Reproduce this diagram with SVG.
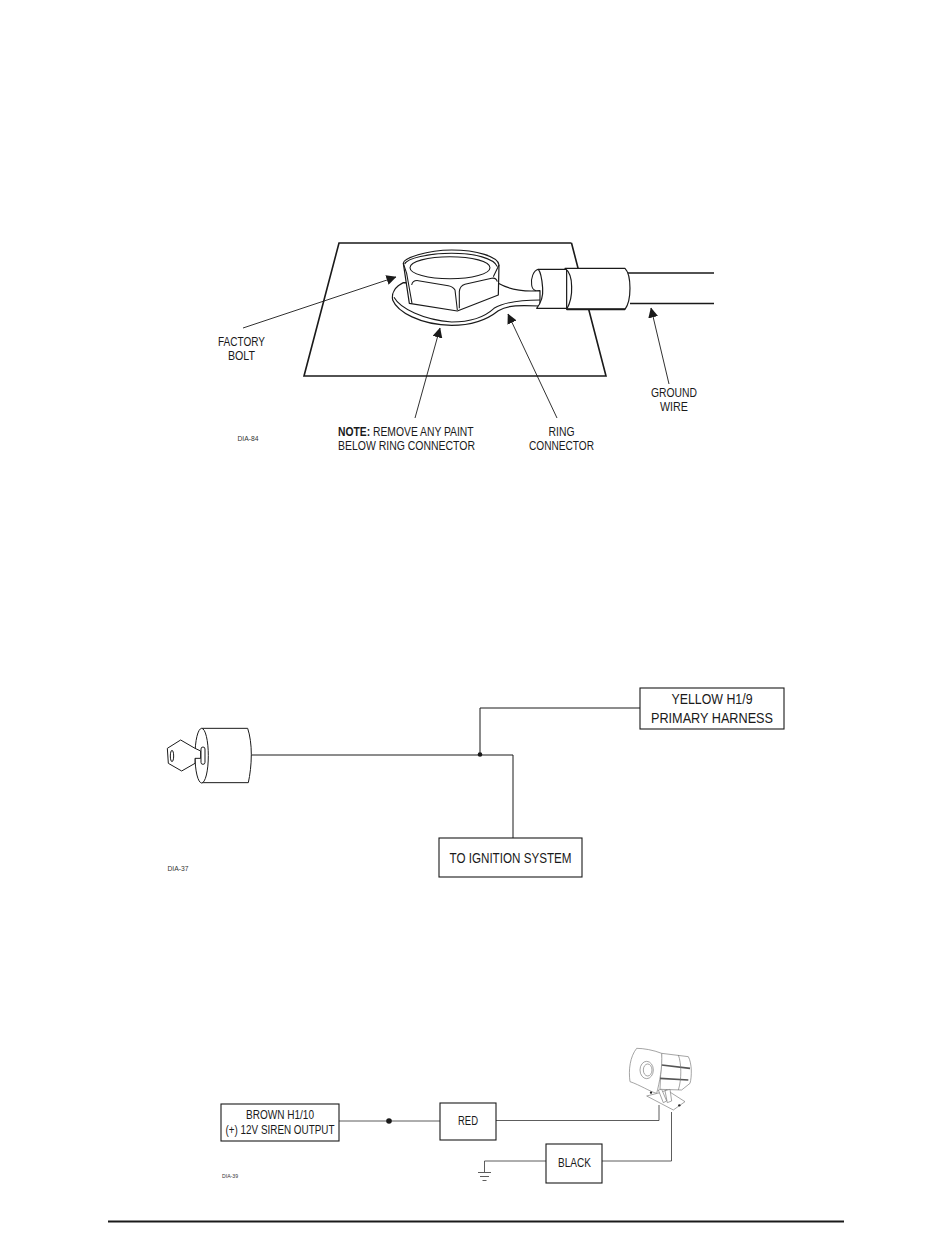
<svg xmlns="http://www.w3.org/2000/svg" width="950" height="1254" viewBox="0 0 950 1254">
<defs>
<style>
text{font-family:"Liberation Sans",Arial,sans-serif;fill:#1a1a1a;font-size:13px;text-anchor:middle}
.st{text-anchor:start}
.b{font-size:14.500px}
.m{font-size:12.500px}
.l{fill:none;stroke:#1a1a1a;stroke-width:1}
.t{fill:none;stroke:#333;stroke-width:.8}
.h{fill:none;stroke:#1a1a1a;stroke-width:1.6}
.w{fill:#fff;stroke:#1a1a1a;stroke-width:1.1}
.z{fill:#fff;stroke:#1a1a1a;stroke-width:3.600;stroke-linejoin:round}
.y{fill:none;stroke:#1a1a1a;stroke-width:3.200}
.k{fill:#fff;stroke:#1a1a1a;stroke-width:3}
.s{fill:#fff;stroke:#777;stroke-width:2}
.a{fill:none;stroke:#1a1a1a;stroke-width:.9;marker-end:url(#ah)}
.tiny{font-size:6.500px;fill:#333}
</style>
<marker id="ah" viewBox="0 0 10 10" refX="9.500" refY="5" markerWidth="10" markerHeight="10" markerUnits="userSpaceOnUse" orient="auto"><path d="M0 0L10 5L0 10z" fill="#1a1a1a"/></marker>
</defs>
<rect width="950" height="1254" fill="#fff"/>
<g id="ground-plate"><path class="h" d="M571.500 243H339L304 376H606L571.500 243"/></g>
<g id="ground-wire"><path class="h" d="M628 273H714M630 303.500H714"/></g>
<g transform="translate(370 240) scale(.3333)">
<g id="ring-connector">
<path class="z" d="M100 128C75 140 64 160 68 180C82 215 150 255 245 256C310 256 350 240 385 212C415 195 450 195 510 198V152C470 155 420 150 385 130Z"/>
<path class="y" d="M510 180C440 180 400 188 372 205C340 235 300 246 245 246C160 240 90 205 72 172"/>
</g>
<g id="factory-bolt">
<path class="z" d="M100 70C100 55 170 30 245 30C320 30 385 50 387 75L385 165L262 213L118 190Z"/>
<ellipse class="y" cx="240" cy="83" rx="120" ry="33"/>
<path class="y" d="M104 72C112 55 175 40 245 40C315 40 372 55 382 80"/>
<path class="y" d="M100 70L110 100L126 190M125 135Q128 120 145 122L235 137Q250 140 255 150L262 210M268 205V155Q270 137 285 133L365 115Q378 112 382 125M387 75L370 110"/>
</g>
<g id="crimp">
<path class="z" d="M505 88H590V205H500C512 190 520 170 518 145C516 120 515 100 505 88Z"/>
<path class="y" d="M505 88C490 92 482 115 485 135C486 145 490 150 498 152"/>
<path class="z" d="M585 85H765C775 95 780 120 780 145C780 170 775 195 765 208H590C600 190 606 165 605 140C605 115 598 95 585 85Z"/>
<path d="M590 208H765" stroke="#1a1a1a" stroke-width="6" fill="none"/>
</g>
</g>
<g id="arrows-top">
<path class="a" d="M243 328L396 277"/>
<path class="a" d="M415 418L440 328"/>
<path class="a" d="M557 418L508 314"/>
<path class="a" d="M669 384L651 308"/>
</g>
<g id="label-factory-bolt"><text x="241.500" y="346" textLength="47" lengthAdjust="spacingAndGlyphs">FACTORY</text><text x="241.500" y="360" textLength="27" lengthAdjust="spacingAndGlyphs">BOLT</text></g>
<g id="label-note"><text class="st" transform="translate(338 436) scale(.795 1)"><tspan font-weight="bold">NOTE:</tspan> REMOVE ANY PAINT</text><text class="st" x="338" y="450" textLength="137" lengthAdjust="spacingAndGlyphs">BELOW RING CONNECTOR</text></g>
<g id="label-ring"><text x="561.500" y="436" textLength="26" lengthAdjust="spacingAndGlyphs">RING</text><text x="561.500" y="450" textLength="65" lengthAdjust="spacingAndGlyphs">CONNECTOR</text></g>
<g id="label-ground"><text x="674" y="397" textLength="46" lengthAdjust="spacingAndGlyphs">GROUND</text><text x="674" y="411" textLength="28" lengthAdjust="spacingAndGlyphs">WIRE</text></g>
<text class="tiny" x="248" y="441" textLength="21" lengthAdjust="spacingAndGlyphs">DIA-84</text>

<g id="connectors-ignition">
<path class="l" d="M251 755H513V838M480 755V708H640"/>
<circle cx="480" cy="754.500" r="2.300" fill="#1a1a1a"/>
</g>
<g id="ignition-switch" transform="translate(150 715) scale(.3333)">
<path class="k" d="M155 40H293C300 60 304 90 304 118C304 150 300 180 295 203H155"/>
<ellipse class="k" cx="155" cy="122" rx="20" ry="82"/>
<path class="k" d="M135 100L92 75L52 100L55 145L95 168L135 145V130H152V108L135 100Z"/>
<ellipse class="k" cx="66" cy="123" rx="5" ry="17"/>
<rect class="k" x="153" y="96" width="12" height="52" rx="6" stroke-width="4"/>
</g>
<g id="box-yellow"><rect class="w" x="640" y="688" width="144" height="41"/><text class="b" x="712" y="704" textLength="81" lengthAdjust="spacingAndGlyphs">YELLOW H1/9</text><text class="b" x="712" y="723" textLength="122" lengthAdjust="spacingAndGlyphs">PRIMARY HARNESS</text></g>
<g id="box-ignition"><rect class="w" x="439" y="838" width="143" height="39"/><text class="b" x="510.500" y="863" textLength="122" lengthAdjust="spacingAndGlyphs">TO IGNITION SYSTEM</text></g>
<text class="tiny" x="178" y="871" textLength="21" lengthAdjust="spacingAndGlyphs">DIA-37</text>

<g id="connectors-siren">
<path class="t" d="M339 1121H440M496 1120.500H659V1105M671.500 1112V1161H602M546 1161H484.500V1172"/>
<circle cx="389" cy="1121" r="2.800" fill="#1a1a1a"/>
<path class="t" d="M478 1172.500H491M480 1176.500H489M482.500 1180.500H486.500"/>
</g>
<g id="box-brown"><rect class="w" x="221" y="1104" width="118" height="37"/><text class="m" x="280" y="1119" textLength="68" lengthAdjust="spacingAndGlyphs">BROWN H1/10</text><text class="m" x="280" y="1134" textLength="109" lengthAdjust="spacingAndGlyphs">(+) 12V SIREN OUTPUT</text></g>
<g id="box-red"><rect class="w" x="440" y="1103" width="56" height="37"/><text class="m" x="468" y="1125" textLength="20" lengthAdjust="spacingAndGlyphs">RED</text></g>
<g id="box-black"><rect class="w" x="546" y="1144" width="56" height="39"/><text class="m" x="574.500" y="1167" textLength="33" lengthAdjust="spacingAndGlyphs">BLACK</text></g>
<text class="tiny" x="230" y="1178" textLength="16" lengthAdjust="spacingAndGlyphs" style="font-size:5.500px">DIA-39</text>
<g id="siren" transform="translate(610 1040) scale(.3333)">
<path class="s" d="M155 40L235 50C246 70 246 110 240 130L215 150L150 148Z"/>
<path d="M155 75L240 85M150 115L235 120" stroke="#555" stroke-width="5" fill="none"/>
<path d="M205 45C215 70 215 120 205 150" stroke="#777" stroke-width="2" fill="none"/>
<path class="s" d="M80 25C60 50 55 90 60 125C90 135 120 155 140 160C148 130 158 80 155 40C130 30 100 25 80 25Z"/>
<ellipse class="s" cx="110" cy="90" rx="20" ry="26"/>
<ellipse class="s" cx="113" cy="90" rx="13" ry="18"/>
<path class="s" d="M110 168L150 158L170 150L225 185L190 210Z"/>
<path class="s" d="M145 150L160 188L170 183L155 148ZM165 152L172 188L185 183L180 148Z"/>
<circle cx="123" cy="158" r="3.500" fill="#222"/><circle cx="208" cy="196" r="3.500" fill="#222"/>
</g>
<g id="footer"><path d="M108 1221.500H844" stroke="#1a1a1a" stroke-width="2" fill="none"/></g>
</svg>
